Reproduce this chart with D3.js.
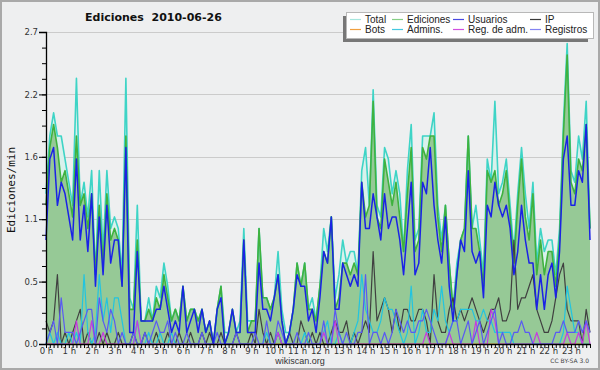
<!DOCTYPE html>
<html lang="es">
<head>
<meta charset="utf-8">
<title>Ediciones 2010-06-26</title>
<script src="https://cdn.jsdelivr.net/npm/d3@7"></script>
<style>
  body { margin: 0; background: #fff; }
  svg { display: block; }
</style>
</head>
<body>
<script>

// 10-minute bins, edits per minute, one row per hour
var total = [
  1.3, 1.8, 2.0, 1.8, 1.8, 1.6,
  1.4, 1.2, 2.3, 1.2, 1.4, 1.1,
  1.5, 0.6, 1.5, 0.8, 1.5, 1.0,
  1.1, 1.0, 0.6, 2.3, 0.4, 0.3,
  1.2, 0.2, 0.2, 0.4, 0.2, 0.5,
  0.4, 0.7, 0.5, 0.2, 0.3, 0.2,
  0.5, 0.2, 0.3, 0.3, 0.2, 0.3,
  0.1, 0.2, 0.0, 0.3, 0.5, 0.1,
  0.1, 0.3, 0.1, 0.2, 1.0, 0.2,
  0.2, 0.2, 1.0, 0.4, 0.4, 0.3,
  0.4, 0.8, 0.3, 0.1, 0.1, 0.3,
  0.7, 0.5, 0.7, 0.3, 0.4, 0.2,
  0.5, 1.0, 0.8, 1.1, 0.4, 0.6,
  0.9, 0.7, 0.8, 0.8, 0.6, 1.5,
  1.7, 1.2, 2.2, 1.2, 1.1, 1.7,
  1.6, 1.3, 1.5, 1.3, 0.8, 1.5,
  1.9, 0.9, 1.0, 1.8, 1.8, 1.8,
  2.0, 1.2, 0.9, 1.2, 0.7, 0.3,
  0.7, 0.9, 1.0, 1.8, 1.0, 1.2,
  0.9, 0.6, 1.6, 1.4, 2.1, 1.3,
  1.4, 1.6, 1.2, 0.8, 1.3, 1.7,
  1.3, 1.0, 1.4, 0.7, 1.0, 0.8,
  0.9, 0.9, 0.6, 1.0, 1.9, 2.6,
  1.5, 1.4, 1.8, 1.6, 2.1, 1.0
];

var ediciones = [
  1.2, 1.7, 1.9, 1.7, 1.4, 1.5,
  1.3, 1.1, 1.8, 1.2, 1.3, 1.0,
  1.3, 0.6, 1.2, 0.7, 1.3, 0.9,
  1.0, 0.9, 0.5, 1.8, 0.3, 0.3,
  0.9, 0.2, 0.2, 0.3, 0.2, 0.4,
  0.3, 0.6, 0.4, 0.2, 0.3, 0.2,
  0.5, 0.2, 0.3, 0.3, 0.2, 0.3,
  0.1, 0.2, 0.0, 0.3, 0.5, 0.0,
  0.1, 0.3, 0.1, 0.1, 0.9, 0.1,
  0.2, 0.2, 1.0, 0.4, 0.4, 0.3,
  0.4, 0.6, 0.2, 0.0, 0.1, 0.3,
  0.7, 0.5, 0.7, 0.3, 0.3, 0.2,
  0.5, 0.8, 0.7, 1.1, 0.3, 0.4,
  0.7, 0.7, 0.6, 0.7, 0.6, 1.4,
  1.1, 1.2, 2.1, 1.1, 1.0, 1.6,
  1.4, 1.2, 1.4, 1.1, 0.8, 1.3,
  1.7, 0.8, 0.9, 1.7, 1.6, 1.8,
  1.8, 1.1, 0.8, 1.2, 0.7, 0.3,
  0.6, 0.9, 1.0, 1.8, 1.0, 1.0,
  0.8, 0.5, 1.5, 1.4, 1.5, 1.2,
  1.3, 1.5, 1.1, 0.7, 1.2, 1.6,
  1.1, 0.9, 1.3, 0.6, 0.9, 0.6,
  0.8, 0.8, 0.5, 0.9, 1.8, 2.5,
  1.4, 1.3, 1.6, 1.5, 1.9, 1.0
];

var usuarios = [
  0.9, 1.6, 1.7, 1.2, 1.4, 1.3,
  1.1, 0.9, 1.6, 0.9, 1.2, 0.8,
  1.3, 0.5, 1.1, 0.6, 1.2, 0.7,
  0.9, 0.9, 0.5, 1.7, 0.1, 0.1,
  0.8, 0.2, 0.2, 0.2, 0.2, 0.3,
  0.3, 0.5, 0.3, 0.1, 0.2, 0.1,
  0.5, 0.1, 0.2, 0.3, 0.1, 0.3,
  0.1, 0.2, 0.0, 0.3, 0.4, 0.0,
  0.1, 0.3, 0.1, 0.1, 0.9, 0.1,
  0.1, 0.1, 0.7, 0.3, 0.3, 0.2,
  0.4, 0.6, 0.2, 0.0, 0.1, 0.3,
  0.6, 0.5, 0.5, 0.2, 0.3, 0.1,
  0.4, 0.8, 0.7, 1.1, 0.3, 0.3,
  0.7, 0.6, 0.5, 0.6, 0.5, 1.4,
  1.0, 1.0, 1.3, 1.1, 0.9, 1.3,
  1.0, 1.1, 1.1, 0.9, 0.6, 1.0,
  1.4, 0.6, 0.7, 1.4, 1.3, 1.7,
  1.2, 0.9, 0.7, 1.1, 0.5, 0.2,
  0.6, 0.9, 0.8, 1.5, 0.8, 0.7,
  0.8, 0.4, 1.2, 1.1, 1.4, 1.2,
  1.1, 1.2, 1.0, 0.6, 0.8, 1.2,
  0.9, 0.7, 0.7, 0.3, 0.6, 0.3,
  0.6, 0.7, 0.4, 0.8, 1.6, 1.8,
  1.2, 1.2, 1.5, 1.4, 1.9, 0.9
];

var ip = [
  0.2, 0.1, 0.2, 0.6, 0.0, 0.1,
  0.0, 0.1, 0.2, 0.3, 0.0, 0.1,
  0.0, 0.0, 0.1, 0.0, 0.1, 0.0,
  0.0, 0.1, 0.0, 0.0, 0.0, 0.1,
  0.0, 0.0, 0.1, 0.0, 0.0, 0.1,
  0.0, 0.0, 0.1, 0.0, 0.0, 0.1,
  0.0, 0.0, 0.1, 0.0, 0.0, 0.1,
  0.0, 0.1, 0.0, 0.0, 0.1, 0.0,
  0.0, 0.0, 0.1, 0.0, 0.0, 0.0,
  0.1, 0.0, 0.3, 0.1, 0.0, 0.1,
  0.0, 0.1, 0.0, 0.0, 0.1, 0.0,
  0.0, 0.2, 0.1, 0.0, 0.1, 0.0,
  0.1, 0.0, 0.0, 0.1, 0.2, 0.1,
  0.1, 0.2, 0.0, 0.1, 0.0, 0.1,
  0.2, 0.1, 0.8, 0.2, 0.3, 0.4,
  0.3, 0.1, 0.3, 0.1, 0.3, 0.3,
  0.2, 0.2, 0.3, 0.3, 0.2, 0.0,
  0.6, 0.2, 0.1, 0.1, 0.3, 0.4,
  0.2, 0.3, 0.2, 0.3, 0.4, 0.3,
  0.2, 0.1, 0.2, 0.3, 0.3, 0.4,
  0.2, 0.2, 0.3, 0.9, 0.3, 0.4,
  0.4, 0.5, 0.6, 0.3, 0.2, 0.1,
  0.1, 0.2, 0.4, 0.6, 0.7, 0.3,
  0.2, 0.2, 0.2, 0.0, 0.3, 0.1
];

var bots = d3.range(144).map(function () { return 0; });

var admins = [
  0.0, 0.1, 0.0, 0.1, 0.0, 0.0,
  0.1, 0.0, 0.1, 0.0, 0.6, 0.1,
  0.0, 0.1, 0.6, 0.2, 0.4, 0.1,
  0.4, 0.4, 0.2, 0.0, 0.0, 0.0,
  0.2, 0.0, 0.0, 0.1, 0.0, 0.0,
  0.1, 0.0, 0.0, 0.1, 0.0, 0.0,
  0.0, 0.0, 0.0, 0.0, 0.0, 0.0,
  0.0, 0.0, 0.0, 0.0, 0.0, 0.0,
  0.0, 0.0, 0.0, 0.0, 0.0, 0.0,
  0.0, 0.0, 0.0, 0.0, 0.1, 0.0,
  0.0, 0.1, 0.0, 0.0, 0.0, 0.0,
  0.0, 0.0, 0.1, 0.0, 0.0, 0.0,
  0.0, 0.1, 0.2, 0.0, 0.0, 0.1,
  0.0, 0.0, 0.0, 0.1, 0.2, 0.6,
  0.3, 0.2, 0.1, 0.1, 0.2, 0.4,
  0.3, 0.3, 0.2, 0.1, 0.0, 0.1,
  0.5, 0.0, 0.1, 0.3, 0.1, 0.1,
  0.3, 0.2, 0.5, 0.2, 0.1, 0.2,
  0.2, 0.3, 0.3, 0.3, 0.3, 0.2,
  0.2, 0.3, 0.2, 0.2, 0.1, 0.1,
  0.1, 0.1, 0.1, 0.0, 0.0, 0.0,
  0.0, 0.0, 0.0, 0.0, 0.0, 0.0,
  0.0, 0.0, 0.0, 0.0, 0.1, 0.5,
  0.3, 0.1, 0.1, 0.0, 0.0, 0.0
];

var regAdm = [
  0.0, 0.0, 0.0, 0.0, 0.0, 0.0,
  0.0, 0.0, 0.2, 0.0, 0.0, 0.0,
  0.2, 0.0, 0.0, 0.1, 0.0, 0.0,
  0.0, 0.0, 0.0, 0.0, 0.0, 0.0,
  0.2, 0.0, 0.0, 0.0, 0.0, 0.0,
  0.0, 0.0, 0.0, 0.0, 0.0, 0.0,
  0.0, 0.0, 0.0, 0.0, 0.0, 0.0,
  0.0, 0.0, 0.0, 0.0, 0.0, 0.0,
  0.0, 0.0, 0.0, 0.0, 0.0, 0.0,
  0.0, 0.0, 0.0, 0.0, 0.0, 0.0,
  0.0, 0.1, 0.0, 0.0, 0.0, 0.0,
  0.0, 0.0, 0.0, 0.0, 0.0, 0.0,
  0.0, 0.1, 0.0, 0.0, 0.2, 0.0,
  0.0, 0.0, 0.0, 0.0, 0.0, 0.0,
  0.0, 0.0, 0.0, 0.0, 0.0, 0.0,
  0.0, 0.0, 0.0, 0.0, 0.0, 0.0,
  0.0, 0.0, 0.0, 0.0, 0.1, 0.0,
  0.0, 0.0, 0.0, 0.0, 0.1, 0.0,
  0.0, 0.0, 0.0, 0.0, 0.0, 0.2,
  0.0, 0.0, 0.0, 0.3, 0.2, 0.0,
  0.0, 0.0, 0.0, 0.0, 0.0, 0.0,
  0.0, 0.0, 0.0, 0.1, 0.0, 0.0,
  0.0, 0.0, 0.0, 0.0, 0.0, 0.1,
  0.0, 0.0, 0.1, 0.0, 0.2, 0.0
];

var registros = [
  0.0, 0.1, 0.2, 0.0, 0.4, 0.1,
  0.1, 0.1, 0.0, 0.1, 0.2, 0.3,
  0.3, 0.0, 0.4, 0.2, 0.1, 0.3,
  0.2, 0.0, 0.1, 0.0, 0.0, 0.1,
  0.0, 0.0, 0.1, 0.0, 0.1, 0.2,
  0.1, 0.1, 0.2, 0.0, 0.1, 0.0,
  0.0, 0.1, 0.0, 0.0, 0.0, 0.1,
  0.0, 0.0, 0.0, 0.1, 0.0, 0.0,
  0.0, 0.0, 0.1, 0.0, 0.0, 0.0,
  0.0, 0.1, 0.0, 0.0, 0.2, 0.0,
  0.0, 0.2, 0.1, 0.0, 0.0, 0.0,
  0.1, 0.0, 0.0, 0.1, 0.0, 0.0,
  0.0, 0.2, 0.0, 0.0, 0.3, 0.1,
  0.0, 0.1, 0.0, 0.0, 0.1, 0.1,
  0.6, 0.0, 0.1, 0.1, 0.0, 0.1,
  0.0, 0.1, 0.3, 0.2, 0.1, 0.2,
  0.1, 0.1, 0.2, 0.2, 0.3, 0.2,
  0.1, 0.0, 0.0, 0.0, 0.1, 0.2,
  0.2, 0.0, 0.1, 0.2, 0.0, 0.1,
  0.2, 0.0, 0.1, 0.2, 0.3, 0.0,
  0.1, 0.0, 0.0, 0.1, 0.1, 0.2,
  0.1, 0.1, 0.0, 0.0, 0.0, 0.0,
  0.0, 0.0, 0.1, 0.1, 0.2, 0.1,
  0.1, 0.1, 0.2, 0.1, 0.2, 0.1
];

var yTicks = [0, 0.54, 1.08, 1.62, 2.16, 2.7];
var legendRow1 = ["Total", "Ediciones", "Usuarios", "IP"];
var legendRow2 = ["Bots", "Admins.", "Reg. de adm.", "Registros"];

var w = 600, h = 370;
var xScale = d3.scaleLinear().domain([0, 143]).range([46, 590]);
var yScale = d3.scaleLinear().domain([0, 2.7]).range([344, 32]);

var svg = d3.select("body").append("svg")
    .attr("width", w)
    .attr("height", h)
    .style("font-family", "'Liberation Sans', sans-serif");

// background and frame
svg.append("rect")
    .attr("x", 1).attr("y", 1)
    .attr("width", w - 2).attr("height", h - 2)
    .attr("fill", "#eeeff0")
    .attr("stroke", "#a9a9a9")
    .attr("stroke-width", 2);

// grid
svg.selectAll("line.grid")
    .data(yTicks)
    .enter()
    .append("line")
    .attr("class", "grid")
    .attr("x1", 46).attr("x2", 590)
    .attr("y1", function (d) { return Math.round(yScale(d)) + 0.5; })
    .attr("y2", function (d) { return Math.round(yScale(d)) + 0.5; })
    .attr("stroke", "#cbcbcb");

var area = function (arr) {
    return d3.area()
        .x(function (d, i) { return xScale(i); })
        .y0(yScale(0))
        .y1(function (d) { return yScale(d); })(arr);
};
var line = function (arr) {
    return d3.line()
        .x(function (d, i) { return xScale(i); })
        .y(function (d) { return yScale(d); })(arr);
};

svg.append("path").attr("d", area(total)).attr("fill", "#d9f1ec");
svg.append("path").attr("d", area(ediciones)).attr("fill", "#96c996");

var series = [
    { data: total, color: "#3ed4c6", width: 1.6 },
    { data: ediciones, color: "#3fb23f", width: 1.6 },
    { data: bots, color: "#f0a040", width: 1.2 },
    { data: ip, color: "#404040", width: 1.2 },
    { data: admins, color: "#22c4e0", width: 1.2 },
    { data: regAdm, color: "#c63ce0", width: 1.2 },
    { data: registros, color: "#5a5af2", width: 1.2 },
    { data: usuarios, color: "#1a22e6", width: 1.5 }
];

svg.selectAll("path.series")
    .data(series)
    .enter()
    .append("path")
    .attr("class", "series")
    .attr("d", function (d) { return line(d.data); })
    .attr("fill", "none")
    .attr("stroke", function (d) { return d.color; })
    .attr("stroke-width", function (d) { return d.width; })
    .attr("stroke-linejoin", "round");

// y axis
var yAxis = svg.append("g")
    .attr("transform", "translate(46,0)")
    .call(d3.axisLeft(yScale)
        .tickValues(yTicks)
        .tickFormat(d3.format(".1f"))
        .tickSize(7)
        .tickPadding(1));
svg.append("g")
    .attr("transform", "translate(46,0)")
    .call(d3.axisLeft(yScale)
        .tickValues(d3.range(0, 20).map(function (k) { return k * 0.135; }))
        .tickFormat("")
        .tickSize(4))
    .select(".domain").remove();

// x axis
var xAxis = svg.append("g")
    .attr("transform", "translate(0,344)")
    .call(d3.axisBottom(xScale)
        .tickValues(d3.range(0, 144))
        .tickFormat(function (d) { return d % 6 === 0 ? (d / 6) + " h" : ""; })
        .tickSize(4)
        .tickPadding(0)
        .tickSizeOuter(0));

svg.selectAll(".tick text")
    .attr("fill", "#333")
    .attr("font-family", "'DejaVu Sans', sans-serif")
    .attr("font-size", "8.5px");
svg.selectAll(".domain").attr("stroke", "#000").attr("stroke-width", 1.3);
svg.selectAll(".tick line").attr("stroke", "#000");

// title and labels
svg.append("text")
    .attr("x", 85).attr("y", 21)
    .attr("font-family", "'DejaVu Sans', sans-serif")
    .attr("font-weight", "bold")
    .attr("font-size", "11px")
    .attr("fill", "#111")
    .style("white-space", "pre")
    .text("Ediciones  2010-06-26");

svg.append("text")
    .attr("transform", "translate(15,190) rotate(-90)")
    .attr("text-anchor", "middle")
    .attr("font-family", "'DejaVu Sans Mono', monospace")
    .attr("font-size", "11px")
    .attr("fill", "#111")
    .text("Ediciones/min");

svg.append("text")
    .attr("x", 300).attr("y", 364)
    .attr("text-anchor", "middle")
    .attr("font-size", "9px")
    .attr("fill", "#333")
    .text("wikiscan.org");

svg.append("text")
    .attr("x", 589).attr("y", 363)
    .attr("text-anchor", "end")
    .attr("font-family", "'DejaVu Sans', sans-serif")
    .attr("font-size", "6px")
    .attr("fill", "#444")
    .text("CC BY-SA 3.0");

// legend
var legendColors = [
    ["#a6e6de", "#86cf86", "#4a4ae2", "#3a3a3a"],
    ["#f0a040", "#44c8e0", "#d050e0", "#8484f2"]
];
var colX = [350, 392, 453, 530];
var rowY = [19, 29];

svg.append("rect")
    .attr("x", 343).attr("y", 16)
    .attr("width", 245).attr("height", 26)
    .attr("fill", "#777");
svg.append("rect")
    .attr("x", 346.5).attr("y", 12.5)
    .attr("width", 247).attr("height", 26)
    .attr("fill", "#fff")
    .attr("stroke", "#b8b8b8");

[legendRow1, legendRow2].forEach(function (row, r) {
    var g = svg.append("g");
    var items = g.selectAll("g").data(row).enter().append("g")
        .attr("transform", function (d, c) { return "translate(" + colX[c] + "," + rowY[r] + ")"; });
    items.append("line")
        .attr("x1", 0).attr("x2", 11)
        .attr("y1", 0.5).attr("y2", 0.5)
        .attr("stroke", function (d, c) { return legendColors[r][c]; })
        .attr("stroke-width", 1.2);
    items.append("text")
        .attr("x", 15).attr("y", 3.5)
        .attr("font-size", "10px")
        .attr("fill", "#222")
        .text(function (d) { return d; });
});

</script>
</body>
</html>
